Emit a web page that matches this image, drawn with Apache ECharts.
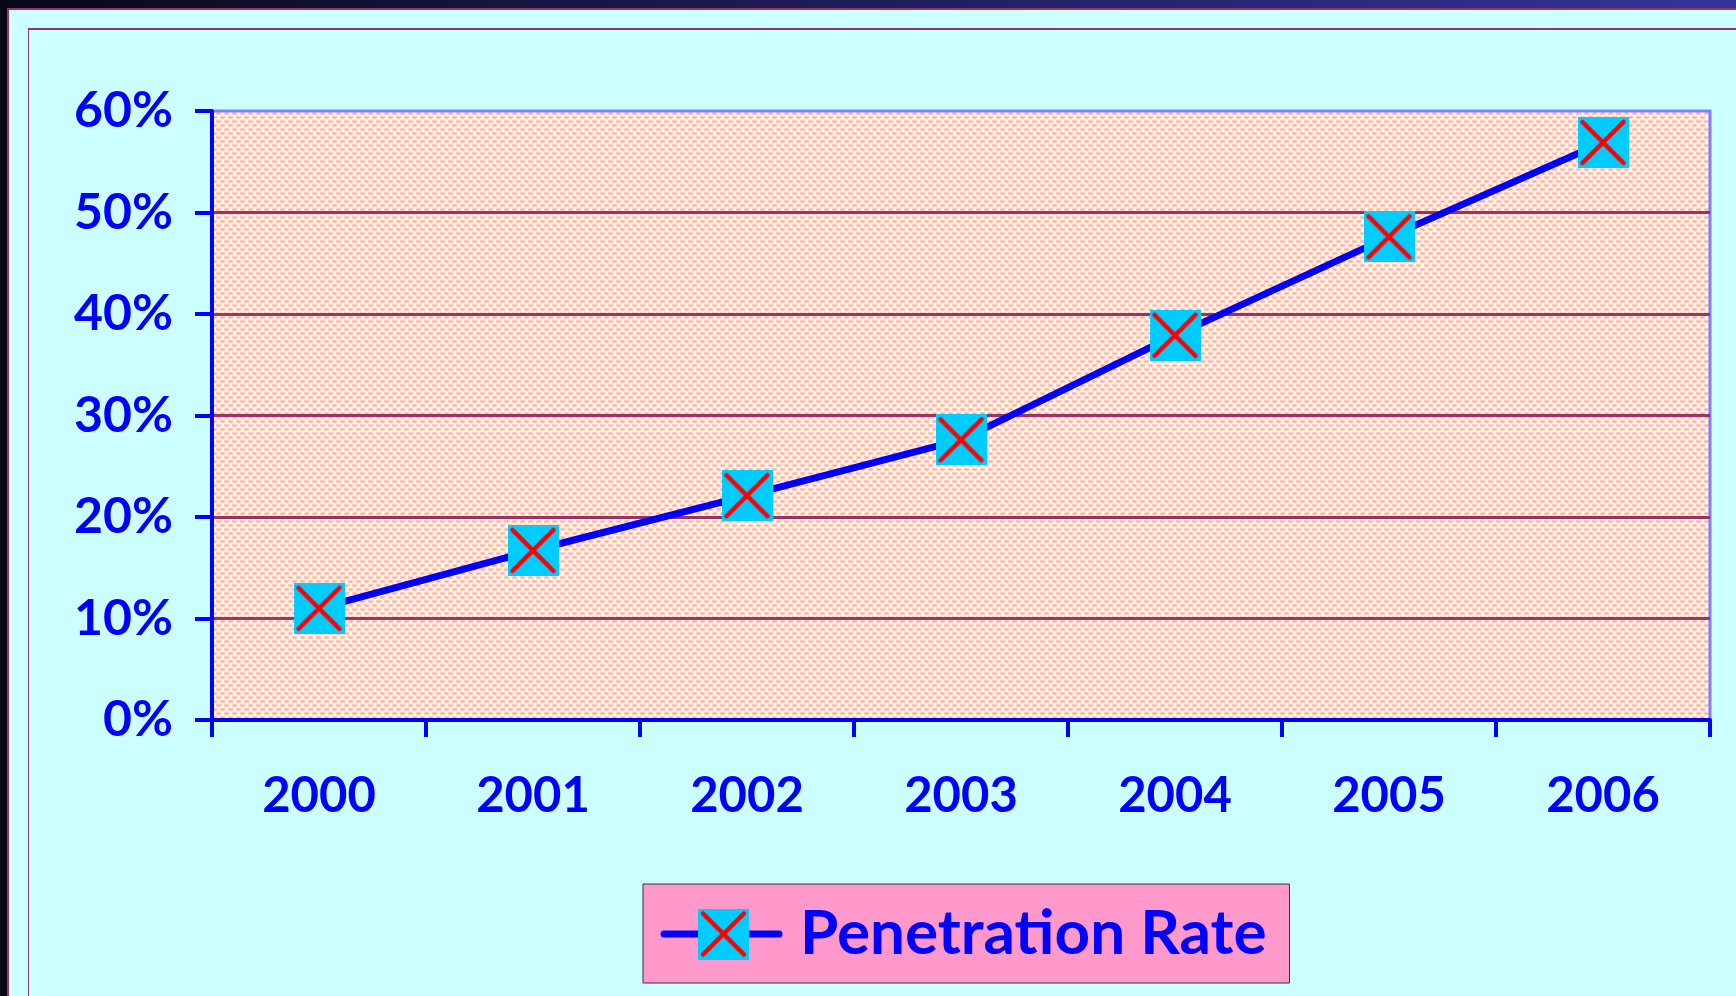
<!DOCTYPE html>
<html>
<head>
<meta charset="utf-8">
<script src="https://cdn.jsdelivr.net/npm/echarts@6/dist/echarts.min.js"></script>
<style>
html,body{margin:0;padding:0;background:#CCFFFF;overflow:hidden;}
#chart{width:1736px;height:996px;}
</style>
</head>
<body>
<div id="chart"></div>
<script>
// ---- data ----
const years = ['2000', '2001', '2002', '2003', '2004', '2005', '2006'];
const penetrationRate = [11.0, 16.7, 22.1, 27.6, 37.9, 47.6, 56.9];
const seriesName = 'Penetration Rate';
const yMin = 0, yMax = 60, yStep = 10;

// ---- marker images ----
function drawX(ctx, x0, y0, w, h, inset, lw) {
  ctx.strokeStyle = '#FF0000';
  ctx.lineWidth = lw;
  ctx.lineCap = 'round';
  ctx.beginPath();
  ctx.moveTo(x0 + inset, y0 + inset); ctx.lineTo(x0 + w - inset, y0 + h - inset);
  ctx.moveTo(x0 + w - inset, y0 + inset); ctx.lineTo(x0 + inset, y0 + h - inset);
  ctx.stroke();
}
function markerImage() {
  const c = document.createElement('canvas');
  c.width = 51; c.height = 51;
  const ctx = c.getContext('2d');
  ctx.fillStyle = '#00CCFF';
  ctx.fillRect(0, 0, 51, 51);
  drawX(ctx, 0, 0, 51, 51, 5, 4.5);
  return c.toDataURL();
}
function legendIconImage() {
  const c = document.createElement('canvas');
  c.width = 135; c.height = 51;
  const ctx = c.getContext('2d');
  ctx.strokeStyle = '#0000FF';
  ctx.lineWidth = 7;
  ctx.lineCap = 'round';
  ctx.beginPath(); ctx.moveTo(4, 25.5); ctx.lineTo(119, 25.5); ctx.stroke();
  ctx.fillStyle = '#00CCFF';
  ctx.fillRect(38, 0, 51, 51);
  drawX(ctx, 38, 0, 51, 51, 5, 4.5);
  return c.toDataURL();
}
function patternCanvas() {
  const c = document.createElement('canvas');
  c.width = 8; c.height = 8;
  const ctx = c.getContext('2d');
  ctx.fillStyle = '#FFFFCC';
  ctx.fillRect(0, 0, 8, 8);
  ctx.fillStyle = '#FFCCCC';
  ctx.fillRect(0, 0, 5, 3);
  ctx.fillRect(4, 4, 5, 3); ctx.fillRect(0, 4, 1, 3);
  ctx.fillStyle = '#FF99CC';
  ctx.fillRect(1, 1, 3, 1);
  ctx.fillRect(5, 5, 3, 1);
  return c;
}

const chart = echarts.init(document.getElementById('chart'), null, {renderer: 'canvas'});
const blue = '#0000FF';
const font = 'Lato';

chart.setOption({
  backgroundColor: '#CCFFFF',
  animation: false,
  graphic: [
    {type: 'rect', shape: {x: 0, y: 0, width: 1736, height: 8}, style: {fill: new echarts.graphic.LinearGradient(0, 0, 1, 0, [{offset: 0, color: '#080818'}, {offset: 1, color: '#34349A'}])}, z: 100},
    {type: 'rect', shape: {x: 0, y: 0, width: 7, height: 996}, style: {fill: '#080818'}, z: 100},
    {type: 'rect', shape: {x: 7, y: 8, width: 1729, height: 2}, style: {fill: '#993366'}, z: 100},
    {type: 'rect', shape: {x: 7, y: 8, width: 2, height: 988}, style: {fill: '#993366'}, z: 100},
    {type: 'rect', shape: {x: 28, y: 28, width: 1708, height: 2}, style: {fill: '#993366'}, z: 100},
    {type: 'rect', shape: {x: 28, y: 28, width: 1, height: 968}, style: {fill: '#993366'}, z: 100}
  ],
  grid: {
    left: 212, right: 26, top: 111, bottom: 276,
    show: true,
    backgroundColor: {image: patternCanvas(), repeat: 'repeat'},
    borderColor: '#8080FF',
    borderWidth: 3
  },
  legend: {
    left: 643, top: 884,
    data: [{name: seriesName, icon: 'image://' + legendIconImage()}],
    itemWidth: 135, itemHeight: 51,
    padding: [19, 23, 18, 17],
    backgroundColor: '#FF99CC',
    borderColor: '#333333',
    borderWidth: 1,
    borderRadius: 0,
    textStyle: {color: blue, fontFamily: font, fontWeight: 'bold', fontSize: 62, lineHeight: 51}
  },
  xAxis: {
    type: 'category',
    data: years,
    boundaryGap: true,
    axisLine: {lineStyle: {color: blue, width: 4}},
    axisTick: {show: true, length: 17, lineStyle: {color: blue, width: 4}},
    axisLabel: {color: blue, fontFamily: font, fontWeight: 'bold', fontSize: 49, lineHeight: 48, margin: 52},
    splitLine: {show: false}
  },
  yAxis: {
    type: 'value',
    min: yMin, max: yMax, interval: yStep,
    axisLine: {show: true, lineStyle: {color: blue, width: 4}},
    axisTick: {show: true, length: 17, lineStyle: {color: blue, width: 4}},
    axisLabel: {color: blue, fontFamily: font, fontWeight: 'bold', fontSize: 50, margin: 39, formatter: v => v + '%'},
    splitLine: {show: true, lineStyle: {color: ['rgba(0,0,0,0)', '#993366', '#993366', '#993366', '#993366', '#993366', 'rgba(0,0,0,0)'], width: 3}}
  },
  series: [{
    name: seriesName,
    type: 'line',
    data: penetrationRate,
    symbol: 'image://' + markerImage(),
    symbolSize: 51,
    lineStyle: {color: blue, width: 7},
    itemStyle: {color: blue},
    z: 5
  }]
});
</script>
</body>
</html>
